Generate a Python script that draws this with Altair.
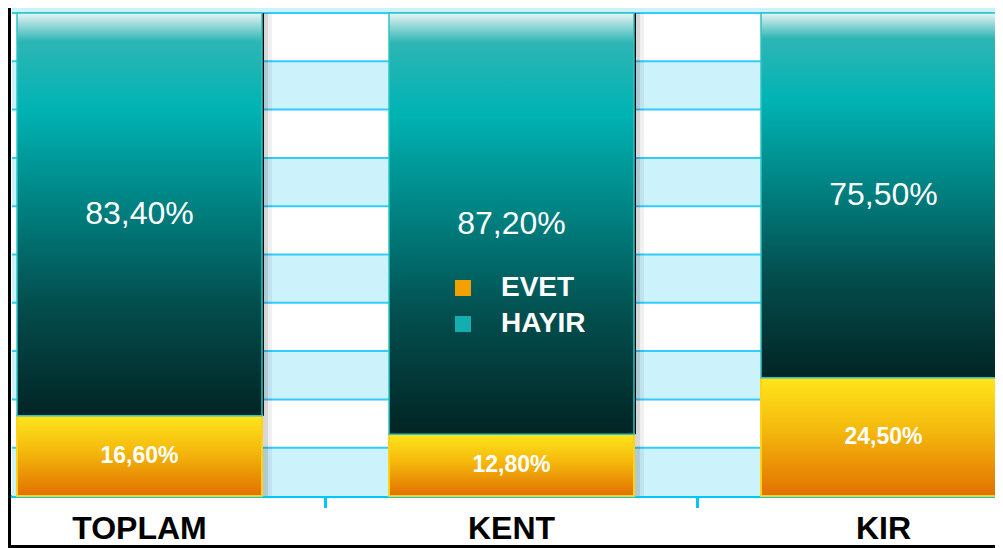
import altair as alt
import pandas as pd

categories = ["TOPLAM", "KENT", "KIR"]
evet = [16.6, 12.8, 24.5]
hayir = [83.4, 87.2, 75.5]
series = ["EVET", "HAYIR"]
series_colors = ["#F2A100", "#14AEAE"]
band_starts = [0, 20, 40, 60, 80]
grid_values = [10, 20, 30, 40, 50, 60, 70, 80, 90, 100]
tick_cats = ["TOPLAM", "KENT"]

def fmt(v):
    return f"{v:.2f}%".replace(".", ",")

df = pd.DataFrame({
    "cat": categories,
    "evet": evet,
    "hayir": hayir,
})
df["total"] = df["evet"] + df["hayir"]
df["evet_mid"] = df["evet"] / 2
df["hayir_mid"] = df["evet"] + df["hayir"] / 2
df["evet_lbl"] = [fmt(v) for v in evet]
df["hayir_lbl"] = [fmt(v) for v in hayir]

bands = pd.DataFrame({"lo": band_starts, "hi": [b + 10 for b in band_starts]})
grid = pd.DataFrame({"v": grid_values})
leg = pd.DataFrame({"cat": ["TOPLAM", "TOPLAM"], "seri": series, "y": [50, 50]})
ticks = pd.DataFrame({"cat": tick_cats})

W, H = 983, 483

xscale = alt.Scale(domain=categories, range=[-58.5, 1057.5],
                   paddingInner=0.3414, paddingOuter=0.1707)
yscale = alt.Scale(domain=[0, 100], nice=False, zero=True)

xenc = alt.X("cat:N", scale=xscale, sort=categories, title=None,
             axis=alt.Axis(labelFont="Liberation Sans", labelFontSize=32,
                           labelFontWeight="bold", labelColor="#000000",
                           labelPadding=17, labelAngle=0, labelAlign="center",
                           labelBaseline="top",
                           domainColor="#00C8F5", domainWidth=3,
                           ticks=False, grid=False))

band_layer = alt.Chart(bands).mark_rect(color="#CCF2FC").encode(
    x=alt.value(0), x2=alt.value(W),
    y=alt.Y("lo:Q", scale=yscale, axis=None), y2="hi:Q")

top_strip = alt.Chart(bands).mark_rect(color="#CCF2FC").encode(
    x=alt.value(0), x2=alt.value(W), y=alt.value(-5), y2=alt.value(0))

grid_layer = alt.Chart(grid).mark_rule(color="#33CCFF", strokeWidth=2).encode(
    x=alt.value(0), x2=alt.value(W),
    y=alt.Y("v:Q", scale=yscale, axis=None))

legend_layer = alt.Chart(leg).mark_square(size=100, opacity=1).encode(
    x=alt.X("cat:N", scale=xscale, sort=categories),
    y=alt.Y("y:Q", scale=yscale, axis=None),
    color=alt.Color("seri:N", sort=series,
                    scale=alt.Scale(domain=series, range=series_colors),
                    legend=alt.Legend(title=None, orient="none",
                                      legendX=437, legendY=261,
                                      symbolType="square", symbolSize=256,
                                      symbolStrokeWidth=0, symbolOpacity=1,
                                      labelColor="#FFFFFF",
                                      labelFont="Liberation Sans",
                                      labelFontSize=28, labelFontWeight="bold",
                                      labelOffset=24, rowPadding=8)))

shadow_soft = alt.Chart(df).mark_bar(color="#000000", opacity=0.06, xOffset=10).encode(
    x=alt.X("cat:N", scale=xscale, sort=categories),
    y=alt.Y("total:Q", scale=yscale, axis=None), y2=alt.Y2(datum=0))
shadow_mid = alt.Chart(df).mark_bar(color="#000000", opacity=0.10, xOffset=6).encode(
    x=alt.X("cat:N", scale=xscale, sort=categories),
    y=alt.Y("total:Q", scale=yscale, axis=None), y2=alt.Y2(datum=0))
shadow_hard = alt.Chart(df).mark_bar(color="#000000", opacity=1, xOffset=2).encode(
    x=alt.X("cat:N", scale=xscale, sort=categories),
    y=alt.Y("total:Q", scale=yscale, axis=None), y2="evet:Q")

orange_grad = alt.LinearGradient(
    gradient="linear", x1=0, x2=0, y1=0, y2=1,
    stops=[alt.GradientStop(offset=0, color="#FFE61C"),
           alt.GradientStop(offset=0.45, color="#F4B80C"),
           alt.GradientStop(offset=1, color="#E27000")])
teal_grad = alt.LinearGradient(
    gradient="linear", x1=0, x2=0, y1=0, y2=1,
    stops=[alt.GradientStop(offset=0, color="#E8F4F4"),
           alt.GradientStop(offset=0.07, color="#2EB5B5"),
           alt.GradientStop(offset=0.24, color="#00B3B3"),
           alt.GradientStop(offset=0.47, color="#008383"),
           alt.GradientStop(offset=0.72, color="#034E4E"),
           alt.GradientStop(offset=1, color="#022424")])

evet_bar = alt.Chart(df).mark_bar(fill=orange_grad, stroke="#FFD21A", strokeWidth=2).encode(
    x=xenc,
    y=alt.Y("evet:Q", scale=yscale, axis=None), y2=alt.Y2(datum=0))
hayir_bar = alt.Chart(df).mark_bar(fill=teal_grad, stroke="#2EC4C4", strokeWidth=1.5).encode(
    x=alt.X("cat:N", scale=xscale, sort=categories),
    y=alt.Y("total:Q", scale=yscale, axis=None), y2="evet:Q")

tick_layer = alt.Chart(ticks).mark_rule(color="#00C8F5", strokeWidth=3, xOffset=63.5).encode(
    x=alt.X("cat:N", scale=xscale, sort=categories, bandPosition=1),
    y=alt.value(H), y2=alt.value(H + 12))

hayir_txt = alt.Chart(df).mark_text(color="#FFFFFF", font="Liberation Sans",
                                    fontSize=32, baseline="middle").encode(
    x=alt.X("cat:N", scale=xscale, sort=categories),
    y=alt.Y("hayir_mid:Q", scale=yscale, axis=None), text="hayir_lbl:N")
evet_txt = alt.Chart(df).mark_text(color="#FFFFFF", font="Liberation Sans",
                                   fontSize=23, fontWeight="bold", baseline="middle").encode(
    x=alt.X("cat:N", scale=xscale, sort=categories),
    y=alt.Y("evet_mid:Q", scale=yscale, axis=None), text="evet_lbl:N")

frame_left = alt.Chart(bands).mark_rule(color="#000000", strokeWidth=4).encode(
    x=alt.value(-3), y=alt.value(-5), y2=alt.value(H + 52))
frame_bottom = alt.Chart(bands).mark_rule(color="#000000", strokeWidth=4).encode(
    x=alt.value(-4), x2=alt.value(W), y=alt.value(H + 51), y2=alt.value(H + 51))

chart = alt.layer(
    band_layer, top_strip, grid_layer, legend_layer,
    shadow_soft, shadow_mid, shadow_hard,
    evet_bar, hayir_bar, tick_layer, hayir_txt, evet_txt, frame_left, frame_bottom,
).properties(
    width=W, height=H,
    autosize=alt.AutoSizeParams(type="none"),
    padding={"left": 4, "top": 5, "right": 0, "bottom": 52},
    background="#FFFFFF",
).configure_view(stroke=None)

chart.save("out.html", embed_options={"renderer": "svg", "actions": False})
